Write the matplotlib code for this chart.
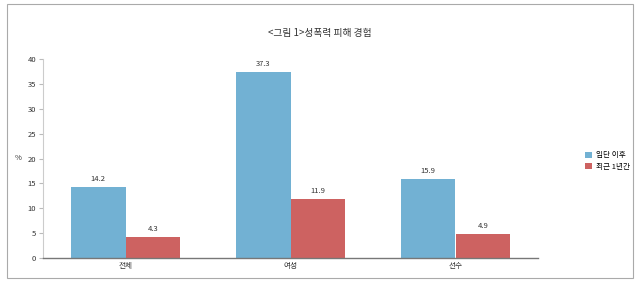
import matplotlib.pyplot as plt
import numpy as np
from matplotlib.patches import Rectangle

plt.rcParams['font.family'] = ['Noto Sans CJK KR', 'DejaVu Sans']

categories = ['전체', '여성', '선수']
series_names = ['입단 이후', '최근 1년간']
after_join = [14.2, 37.3, 15.9]
last_year = [4.3, 11.9, 4.9]
colors = ['#72B1D3', '#CD6261']

fig = plt.figure(figsize=(6.4, 2.82), dpi=100)
ax = fig.add_axes([43 / 640, 24 / 282, 495 / 640, 199 / 282])

x = np.arange(len(categories))
w = 0.333
b1 = ax.bar(x - w / 2, after_join, w, color=colors[0], label=series_names[0])
b2 = ax.bar(x + w / 2, last_year, w, color=colors[1], label=series_names[1])

for bars, vals in [(b1, after_join), (b2, last_year)]:
    for bar, v in zip(bars, vals):
        ax.text(bar.get_x() + bar.get_width() / 2, v + 0.8, f'{v:.1f}',
                ha='center', va='bottom', fontsize=5.5, color='#333333')

ax.set_xlim(-0.5, 2.5)
ax.set_ylim(0, 40)
ax.set_yticks(range(0, 41, 5))
ax.set_xticks(x)
ax.set_xticklabels(categories)
ax.tick_params(axis='y', labelsize=5.5, length=3, color='#bbbbbb', labelcolor='#333333', pad=2)
ax.tick_params(axis='x', labelsize=5.5, length=0, labelcolor='#333333', pad=3)
for s in ['top', 'right']:
    ax.spines[s].set_visible(False)
ax.spines['left'].set_color('#cccccc')
ax.spines['bottom'].set_color('#777777')
ax.spines['bottom'].set_linewidth(1.0)
ax.set_ylabel('%', fontsize=5.5, rotation=0, labelpad=7, va='center', color='#333333')

fig.text(0.5, 1 - 33 / 282, '<그림 1>성폭력 피해 경험', ha='center', va='center',
         fontsize=7, color='#333333')

fig.legend(handles=[b1, b2], labels=series_names, loc='center left',
           bbox_to_anchor=(578 / 640, 1 - 161 / 282), frameon=False, fontsize=5.5,
           handlelength=0.9, handleheight=0.9, handletextpad=0.5, labelspacing=0.4)

fig.patches.append(Rectangle((7 / 640, 4 / 282), 626 / 640, 274 / 282,
                             transform=fig.transFigure, fill=False,
                             edgecolor='#aaaaaa', linewidth=0.8))

fig.savefig('out.png', dpi=100)
